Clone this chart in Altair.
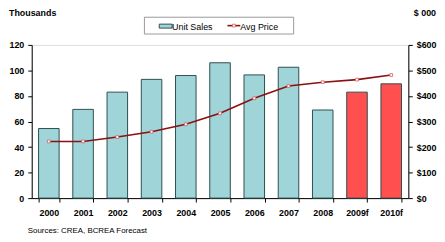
import altair as alt
import pandas as pd

years = ["2000", "2001", "2002", "2003", "2004", "2005", "2006", "2007", "2008", "2009f", "2010f"]
unit_sales = [54.5, 69.5, 83, 93, 96, 106, 96.5, 102.5, 69, 83, 89.5]
avg_price = [222, 222, 239, 260, 289, 332, 391, 439, 454, 464, 482]
forecast = [False] * 9 + [True, True]

df = pd.DataFrame({"year": years, "sales": unit_sales, "price": avg_price, "forecast": forecast})

W, H = 381, 155
FONT = "Liberation Sans"

x = alt.X("year:N", sort=years, title=None,
          scale=alt.Scale(paddingInner=0.4, paddingOuter=0.2),
          axis=alt.Axis(labelAngle=0, labelFontWeight="bold", labelFontSize=9, labelFont=FONT,
                        labelColor="black", tickBand="extent", tickSize=4, tickColor="black",
                        domainColor="black", labelPadding=7))

bars = alt.Chart(df).mark_bar(stroke="#2f4f4f", strokeWidth=1).encode(
    x=x,
    y=alt.Y("sales:Q", title=None, scale=alt.Scale(domain=[0, 120]),
            axis=alt.Axis(values=[0, 20, 40, 60, 80, 100, 120], grid=False, labelFontWeight="bold",
                          labelFontSize=9, labelFont=FONT, labelColor="black", tickColor="black",
                          domainColor="black", tickSize=4, labelPadding=4, labelOverlap=False)),
    color=alt.Color("forecast:N", scale=alt.Scale(domain=[False, True], range=["#9fd4d8", "#ff4f4f"]),
                    legend=None),
)

line = alt.Chart(df).mark_line(
    color="#8b1010", strokeWidth=1.6,
    point=alt.OverlayMarkDef(shape="square", size=8, filled=True, fill="white",
                             stroke="#d06060", strokeWidth=0.8, opacity=1),
).encode(
    x=alt.X("year:N", sort=years),
    y=alt.Y("price:Q", title=None, scale=alt.Scale(domain=[0, 600]),
            axis=alt.Axis(orient="right", values=[0, 100, 200, 300, 400, 500, 600], grid=False,
                          labelExpr="'$' + datum.value", labelFontWeight="bold", labelFontSize=9,
                          labelFont=FONT, labelColor="black", tickColor="black", domainColor="black",
                          tickSize=4, labelPadding=4, labelOverlap=False)),
)

dec = pd.DataFrame({"k": [0]})
def txt(s, xv, yv, align="left", bold=False, size=9):
    return alt.Chart(dec).mark_text(text=s, align=align, baseline="alphabetic", font=FONT,
                                    fontSize=size, fontWeight="bold" if bold else "normal",
                                    color="black").encode(x=alt.value(xv), y=alt.value(yv))

t_left = txt("Thousands", -23, -29, bold=True)
t_right = txt("$ 000", 409, -29, align="right", bold=True)
src = txt("Sources: CREA, BCREA Forecast", -4, 190, size=8)

leg_box = alt.Chart(dec).mark_rect(fill="white", stroke="#999999", strokeWidth=1).encode(
    x=alt.value(114), x2=alt.value(265), y=alt.value(-28), y2=alt.value(-11))
leg_sw = alt.Chart(dec).mark_rect(fill="#9fd4d8", stroke="#2f4f4f", strokeWidth=1).encode(
    x=alt.value(129), x2=alt.value(142), y=alt.value(-21), y2=alt.value(-17))
leg_t1 = txt("Unit Sales", 142, -15.5, size=9)
leg_ln = alt.Chart(dec).mark_rule(color="#8b1010", strokeWidth=1.6).encode(
    x=alt.value(198), x2=alt.value(211), y=alt.value(-19.5))
leg_pt = alt.Chart(dec).mark_point(shape="square", size=8, filled=True, fill="white",
                                   stroke="#d06060", strokeWidth=0.8, opacity=1).encode(
    x=alt.value(204.5), y=alt.value(-19.5))
leg_t2 = txt("Avg Price", 211, -15.5, size=9)

chart = alt.layer(bars, line, t_left, t_right, src, leg_box, leg_sw, leg_t1, leg_ln, leg_pt, leg_t2).resolve_scale(
    y="independent"
).properties(
    width=W, height=H,
    padding=0,
).configure_view(stroke=None).configure(background="white")

chart.save("out.html", embed_options={"renderer": "svg", "actions": False})
